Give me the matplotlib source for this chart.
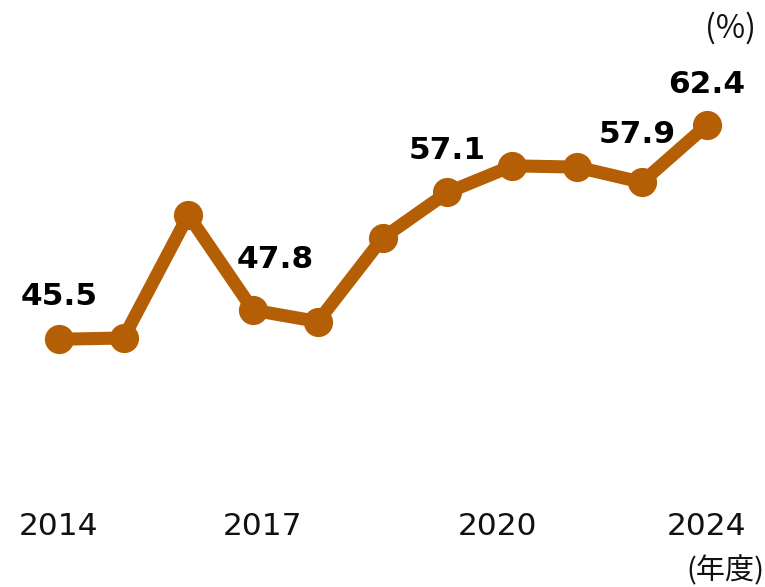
import matplotlib
matplotlib.use("Agg")
import matplotlib.pyplot as plt

# Data
years = [2014, 2015, 2016, 2017, 2018, 2019, 2020, 2021, 2022, 2023, 2024]
values = [45.5, 45.6, 55.3, 47.8, 46.9, 53.5, 57.1, 59.2, 59.1, 57.9, 62.4]

# which points get a value label, and the label offset (pixels)
label_years = [2014, 2017, 2020, 2023, 2024]
label_offsets = [(0, 43), (22, 51), (0, 42), (-5, 48), (0, 41)]

tick_labels = ["2014", "2017", "2020", "2024"]
tick_pos = [2014, 2017.15, 2020.77, 2024]

color = "#B45F06"

fig = plt.figure(figsize=(7.65, 5.87), dpi=100)
ax = fig.add_axes([0, 0, 1, 1])
ax.set_xlim(2013.094, 2024.9)
ax.set_ylim(25.93, 72.30)
ax.axis("off")

ax.plot(years, values, color=color, linewidth=9.4, marker="o",
        markersize=20, markerfacecolor=color, markeredgecolor=color,
        solid_joinstyle="round")

for yr, (dx, dy) in zip(label_years, label_offsets):
    v = values[years.index(yr)]
    ax.annotate(f"{v:.1f}", xy=(yr, v), xytext=(dx, dy),
                textcoords="offset pixels", ha="center", va="center",
                fontsize=22.5, fontweight="bold", color="black",
                family="DejaVu Sans")

xt = ax.get_xaxis_transform()
for pos, lab in zip(tick_pos, tick_labels):
    ax.text(pos, 1 - 526.7 / 587, lab, transform=xt, ha="center", va="center",
            fontsize=22.5, color="#111111", family="DejaVu Sans")

ax.text(705 / 765, 1 - 28 / 587, "(%)", transform=ax.transAxes, ha="left",
        va="center", fontsize=23, color="#111111",
        family=["Noto Sans CJK JP", "DejaVu Sans"])
# unit label sits in the bottom-right corner
ax.text(686 / 765, 1 - 571 / 587, "(年度)", transform=ax.transAxes, ha="left",
        va="center", fontsize=21, color="#111111",
        family=["Noto Sans CJK JP", "DejaVu Sans"])

fig.savefig("out.png", dpi=100)
